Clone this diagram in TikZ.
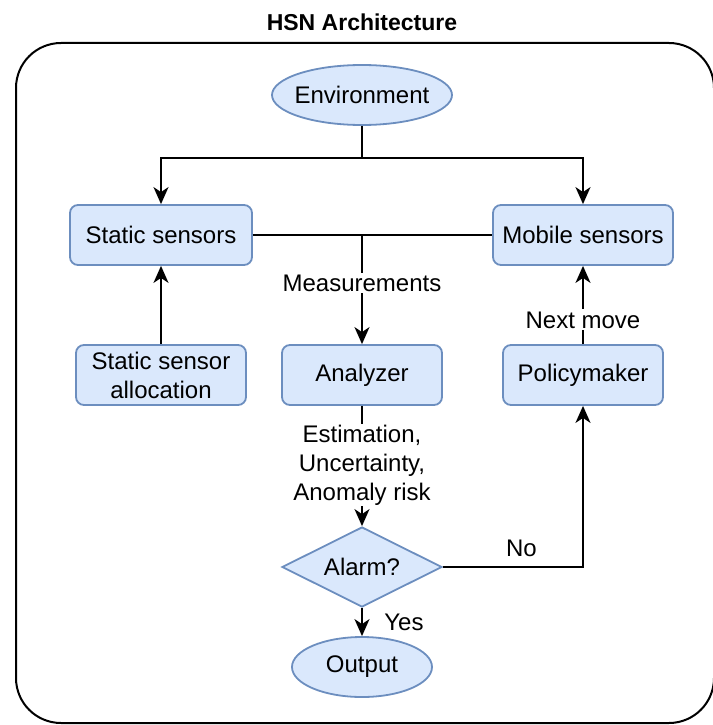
\documentclass[tikz,border=0pt]{standalone}
\usepackage{fontspec}
\setmainfont{Liberation Sans}
\usetikzlibrary{shapes.geometric,arrows.meta}
\definecolor{boxfill}{HTML}{DAE8FC}
\definecolor{boxline}{HTML}{6C8EBF}
\begin{document}
\begin{tikzpicture}[x=1pt,y=-1pt,
  every node/.style={font=\fontsize{24}{29}\selectfont, text=black},
  blk/.style={draw=boxline, fill=boxfill, line width=1.8pt, rounded corners=8pt, minimum height=60pt, inner sep=0pt, align=center},
  ell/.style={draw=boxline, fill=boxfill, line width=1.8pt, ellipse, inner ysep=0pt, inner xsep=-7pt},
  dia/.style={draw=boxline, fill=boxfill, line width=1.8pt, diamond, aspect=2, inner sep=0pt, minimum width=160pt, minimum height=80pt},
  conn/.style={line width=2pt, draw=black},
  arr/.style={conn, -{Stealth[length=17pt,width=15pt,inset=5pt]}},
  lbl/.style={fill=white, inner sep=2pt, align=center}]
\useasboundingbox (0,0) rectangle (712,725);
\node[font=\fontsize{23}{27}\selectfont\bfseries] (title) at (362,22) {HSN Architecture};
\draw[line width=2pt, rounded corners=45pt] (16,43) rectangle (714,723);

\node[ell, minimum width=180pt, minimum height=60pt] (env) at (362,95) {Environment};
\node[blk, minimum width=182pt] (ss) at (161,235) {Static sensors};
\node[blk, minimum width=180pt] (ms) at (583,235) {Mobile sensors};
\node[blk, minimum width=170pt] (ssa) at (161,375) {Static sensor\\allocation};
\node[blk, minimum width=160pt] (an) at (362,375) {Analyzer};
\node[blk, minimum width=160pt] (pm) at (583,375) {Policymaker};
\node[dia] (al) at (362,567) {Alarm?};
\node[ell, minimum width=140pt, minimum height=60pt] (out) at (362,667) {Output};

\coordinate (e1) at (362,158);
\coordinate (j) at (362,235);
\coordinate (nc) at (583,567);

\draw[conn] (env.south) -- (e1);
\draw[arr] (e1) -| (ss.north);
\draw[arr] (e1) -| (ms.north);
\draw[conn] (ss.east) -- (ms.west);
\draw[arr] (j) -- node[lbl, pos=0.44] {Measurements} (an.north);
\draw[arr] (ssa.north) -- (ss.south);
\draw[arr] (pm.north) -- node[lbl, pos=0.31] {Next move} (ms.south);
\draw[arr] (an.south) -- node[lbl, pos=0.49, inner sep=1pt] {Estimation,\\Uncertainty,\\Anomaly risk} (al.north);
\draw[arr] (al.east) -- node[pos=0.56, above=6pt] {No} (nc) -- (pm.south);
\draw[arr] (al.south) -- node[right=18pt] {Yes} (out.north);
\end{tikzpicture}
\end{document}
